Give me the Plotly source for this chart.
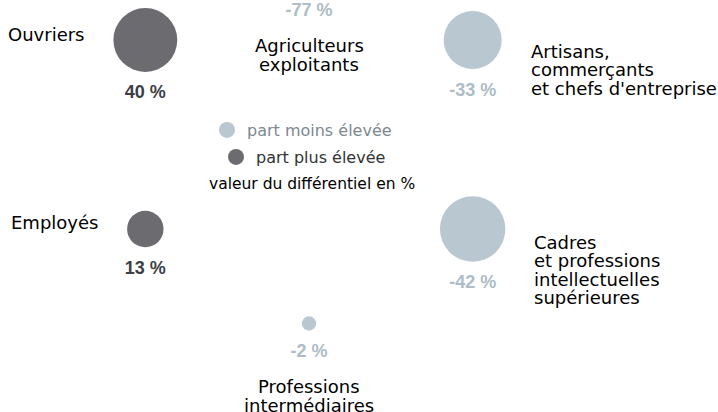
"""Différentiel de part par catégorie socioprofessionnelle (bulles en anneau)."""

import math

import plotly.graph_objects as go

categories = [
    "Agriculteurs<br>exploitants",
    "Artisans,<br>commerçants<br>et chefs d'entreprise",
    "Cadres<br>et professions<br>intellectuelles<br>supérieures",
    "Professions<br>intermédiaires",
    "Employés",
    "Ouvriers",
]
differentiel = [-77, -33, -42, -2, 13, 40]
legend_names = ["part moins élevée", "part plus élevée"]
note = "valeur du différentiel en %"

W, H = 718, 412
CX, CY, RING = 309, 134.5, 189      # centre et rayon de l'anneau (px)
K = 5.05                            # rayon px par racine de %
LIGHT, DARK = "#b9c7d0", "#6b6b70"
LIGHT_TXT, DARK_TXT = "#adbcc6", "#3e3e45"
LINE_H = 18.5

# position de chaque catégorie sur l'anneau, dans le sens horaire depuis le haut
xs, ys, radii = [], [], []
for i, v in enumerate(differentiel):
    a = math.radians(60 * i)
    xs.append(CX + RING * math.sin(a))
    ys.append(CY - RING * math.cos(a))
    radii.append(K * math.sqrt(abs(v)))

sizeref = 1 / (2 * K ** 2)
neg = [i for i, v in enumerate(differentiel) if v < 0]
pos = [i for i, v in enumerate(differentiel) if v >= 0]

fig = go.Figure()
fig.add_trace(go.Scatter(
    x=[xs[i] for i in neg], y=[ys[i] for i in neg], mode="markers",
    marker=dict(size=[abs(differentiel[i]) for i in neg], sizemode="area", sizeref=sizeref,
                color=LIGHT, opacity=1, line_width=0),
    name=legend_names[0], legend="legend", hoverinfo="skip",
))
fig.add_trace(go.Scatter(
    x=[xs[i] for i in pos], y=[ys[i] for i in pos], mode="markers",
    marker=dict(size=[abs(differentiel[i]) for i in pos], sizemode="area", sizeref=sizeref,
                color=DARK, opacity=1, line_width=0),
    name=legend_names[1], legend="legend2", hoverinfo="skip",
))

value_y = [y + r + 22 for y, r in zip(ys, radii)]
fig.add_trace(go.Scatter(
    x=xs, y=value_y, mode="text", text=[f"{v} %" for v in differentiel],
    textfont=dict(family="Liberation Sans", size=18, weight="bold",
                  color=[LIGHT_TXT if v < 0 else DARK_TXT for v in differentiel]),
    cliponaxis=False, showlegend=False, hoverinfo="skip",
))

# placement des libellés : côté et décalage vertical de la première ligne
placement = ["below", ("right", 11), ("right", 13), "below", ("left", -7), ("left", -6)]
for i, (label, place) in enumerate(zip(categories, placement)):
    lines = label.split("<br>")
    if place == "below":
        x0, y0, anchor = xs[i], value_y[i] + 34, "center"
    else:
        side, dy = place
        x0 = xs[i] + (radii[i] + 28) * (1 if side == "right" else -1)
        y0, anchor = ys[i] + dy, ("left" if side == "right" else "right")
    for j, line in enumerate(lines):
        fig.add_annotation(
            x=x0, y=y0 + j * LINE_H, text=line, showarrow=False,
            xanchor=anchor, yanchor="middle", borderpad=0,
            font=dict(family="DejaVu Sans", size=18, color="#000000"),
        )

fig.add_annotation(
    x=312, y=184, text=note, showarrow=False, xanchor="center", yanchor="middle",
    font=dict(family="DejaVu Sans", size=15.5, color="#000000"),
)

legend_style = dict(bgcolor="rgba(0,0,0,0)", itemsizing="trace", xanchor="left", yanchor="middle",
                    borderwidth=0)
fig.update_layout(
    width=W, height=H,
    margin=dict(l=0, r=0, t=0, b=0),
    paper_bgcolor="white", plot_bgcolor="white",
    xaxis=dict(range=[0, W], visible=False, fixedrange=True),
    yaxis=dict(range=[H, 0], visible=False, fixedrange=True),
    legend=dict(x=(227 - 20) / W, y=1 - 130 / H, font=dict(family="DejaVu Sans", size=16, color="#7d8890"),
                **legend_style),
    legend2=dict(x=(236 - 20) / W, y=1 - 157 / H, font=dict(family="DejaVu Sans", size=16, color="#333333"),
                 **legend_style),
    showlegend=True,
)

# la page n'a pas de marge autour du graphique
fig.write_html("out.html", config={"displayModeBar": False},
               post_script="document.body.style.margin = '0';")
